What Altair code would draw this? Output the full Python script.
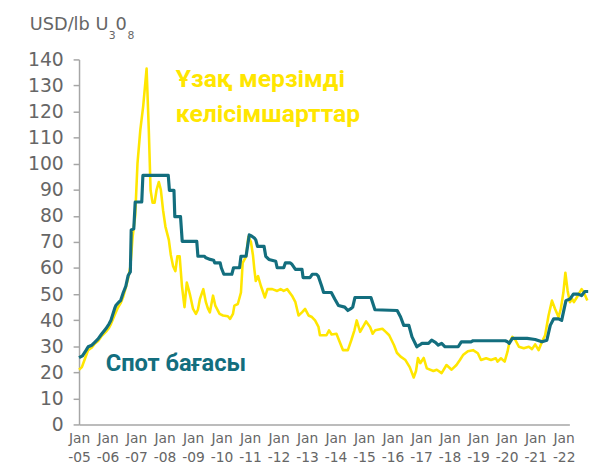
import altair as alt
import pandas as pd

# Yellow series: "Ұзақ мерзімді келісімшарттар"
contract_t = [2005.00, 2005.10, 2005.20, 2005.32, 2005.45, 2005.55, 2005.67, 2005.80, 2005.94, 2006.05,
              2006.12, 2006.25, 2006.35, 2006.46, 2006.55, 2006.64, 2006.72, 2006.80, 2006.88, 2006.97,
              2007.05, 2007.15, 2007.25, 2007.37, 2007.45, 2007.51, 2007.58, 2007.65, 2007.72, 2007.80,
              2007.87, 2007.95, 2008.03, 2008.15, 2008.22, 2008.30, 2008.38, 2008.45, 2008.53, 2008.61,
              2008.70, 2008.78, 2008.84, 2008.90, 2009.00, 2009.10, 2009.17, 2009.24, 2009.36, 2009.45,
              2009.52, 2009.59, 2009.70, 2009.78, 2009.93, 2010.05, 2010.22, 2010.30, 2010.40, 2010.45,
              2010.57, 2010.68, 2010.74, 2010.86, 2010.94, 2011.03, 2011.10, 2011.15, 2011.20, 2011.28,
              2011.38, 2011.52, 2011.61, 2011.78, 2011.95, 2012.07, 2012.18, 2012.30, 2012.47, 2012.59,
              2012.70, 2012.82, 2012.93, 2013.05, 2013.17, 2013.28, 2013.40, 2013.45, 2013.68, 2013.77,
              2013.86, 2014.03, 2014.12, 2014.26, 2014.43, 2014.55, 2014.66, 2014.74, 2014.86, 2015.07,
              2015.21, 2015.30, 2015.39, 2015.64, 2015.76, 2015.88, 2016.05, 2016.15, 2016.28, 2016.45,
              2016.60, 2016.74, 2016.82, 2016.89, 2016.97, 2017.09, 2017.20, 2017.43, 2017.55, 2017.72,
              2017.89, 2018.07, 2018.24, 2018.36, 2018.47, 2018.64, 2018.82, 2018.99, 2019.10, 2019.28,
              2019.45, 2019.62, 2019.68, 2019.80, 2019.93, 2020.03, 2020.09, 2020.20, 2020.31, 2020.43,
              2020.60, 2020.78, 2020.89, 2021.00, 2021.12, 2021.24, 2021.35, 2021.47, 2021.59, 2021.70,
              2021.82, 2021.90, 2021.99, 2022.06, 2022.14, 2022.22, 2022.30, 2022.36, 2022.46, 2022.63,
              2022.71, 2022.83]
contract_v = [21.0, 22.0, 25.0, 28.5, 29.5, 31.0, 32.0, 34.0, 35.5, 37.0,
              38.5, 42.0, 44.5, 46.5, 49.0, 52.5, 56.0, 60.5, 72.0, 80.0,
              100.0, 113.0, 122.0, 136.5, 112.0, 89.8, 85.0, 85.0, 90.0, 93.0,
              90.0, 82.0, 75.9, 70.8, 65.0, 60.7, 58.8, 64.5, 64.5, 53.1,
              45.0, 54.4, 52.0, 49.4, 44.3, 42.4, 44.0, 48.1, 51.9, 46.9,
              44.5, 43.0, 49.4, 45.6, 42.4, 41.8, 41.5, 40.5, 42.4, 45.6,
              46.2, 50.6, 62.0, 64.5, 72.0, 70.0, 65.0, 59.5, 55.0, 56.9,
              53.1, 48.7, 51.9, 51.9, 51.2, 51.9, 51.2, 51.9, 49.4, 46.9,
              41.8, 43.0, 44.3, 41.8, 41.2, 39.9, 37.4, 34.2, 34.2, 36.1,
              34.5, 34.8, 32.3, 28.5, 28.5, 32.3, 36.1, 39.9, 35.5, 39.5,
              37.4, 34.8, 36.1, 36.7, 35.5, 34.2, 30.4, 27.5, 26.0, 24.7,
              22.0, 18.0, 20.5, 25.5, 23.5, 25.5, 21.5, 20.5, 21.0, 19.7,
              22.8, 21.0, 22.8, 24.7, 26.6, 28.1, 28.5, 27.3, 24.7, 25.4,
              24.7, 25.4, 24.1, 25.4, 24.1, 27.9, 31.1, 33.6, 32.3, 29.8,
              29.2, 29.8, 28.9, 30.7, 28.5, 31.7, 34.2, 41.8, 47.5, 44.3,
              41.2, 44.3, 50.6, 58.2, 51.2, 46.9, 48.1, 46.9, 48.7, 51.9,
              50.6, 47.5]

# Teal series: "Спот бағасы"
spot_t = [2005.00, 2005.12, 2005.25, 2005.32, 2005.45, 2005.55, 2005.67, 2005.80, 2005.94, 2006.05,
          2006.12, 2006.25, 2006.29, 2006.40, 2006.46, 2006.55, 2006.64, 2006.72, 2006.77, 2006.80,
          2006.83, 2006.92, 2006.97, 2007.20, 2007.24, 2008.13, 2008.17, 2008.33, 2008.36, 2008.56,
          2008.62, 2009.13, 2009.17, 2009.40, 2009.45, 2009.60, 2009.72, 2009.76, 2009.95, 2009.99,
          2010.08, 2010.36, 2010.42, 2010.63, 2010.68, 2010.86, 2010.97, 2011.05, 2011.15, 2011.20,
          2011.26, 2011.49, 2011.55, 2011.66, 2011.90, 2011.95, 2012.18, 2012.24, 2012.40, 2012.47,
          2012.59, 2012.82, 2012.86, 2013.10, 2013.18, 2013.33, 2013.39, 2013.45, 2013.51, 2013.58,
          2013.85, 2013.97, 2014.10, 2014.32, 2014.43, 2014.55, 2014.60, 2014.68, 2015.24, 2015.38,
          2016.16, 2016.28, 2016.39, 2016.57, 2016.68, 2016.85, 2016.95, 2017.03, 2017.26, 2017.37,
          2017.50, 2017.60, 2017.72, 2017.84, 2018.30, 2018.41, 2018.75, 2018.82, 2019.95, 2020.03,
          2020.09, 2020.20, 2020.72, 2021.00, 2021.24, 2021.41, 2021.53, 2021.65, 2021.82, 2021.93,
          2021.99, 2022.08, 2022.22, 2022.34, 2022.51, 2022.63, 2022.74, 2022.86]
spot_v = [25.6, 26.3, 28.5, 29.8, 30.4, 31.5, 32.8, 34.8, 36.7, 38.5,
          40.0, 44.5, 45.6, 47.0, 47.5, 50.5, 53.0, 57.0, 58.0, 58.5,
          74.6, 75.0, 85.3, 85.3, 95.5, 95.5, 89.8, 89.8, 79.7, 79.7,
          70.2, 70.2, 64.5, 64.5, 63.9, 63.3, 63.0, 62.0, 62.0, 60.1,
          57.6, 57.6, 60.1, 60.1, 64.5, 64.5, 72.7, 72.3, 71.5, 70.8,
          68.3, 68.3, 64.5, 63.3, 62.6, 60.1, 60.1, 62.0, 62.0, 61.4,
          59.5, 59.5, 56.3, 56.3, 57.6, 57.6, 56.9, 55.0, 53.1, 50.6,
          50.6, 48.1, 45.6, 45.0, 43.7, 44.5, 45.0, 48.7, 48.7, 44.0,
          43.7, 41.2, 38.0, 38.0, 33.6, 29.8, 30.5, 31.1, 31.1, 32.3,
          31.5, 30.4, 31.1, 29.8, 29.8, 31.7, 31.7, 32.1, 32.1, 31.7,
          31.1, 33.0, 33.0, 32.6, 31.7, 32.3, 38.0, 40.5, 40.5, 39.9,
          43.0, 47.5, 48.1, 50.0, 50.0, 49.4, 51.0, 51.0]

year_ticks = list(range(2005, 2023))
y_ticks = list(range(0, 141, 10))

YELLOW = "#FFE600"
TEAL = "#136E7E"
GREY = "#666666"
AXIS_GREY = "#a6a6a6"
LABEL_FONT = "DejaVu Sans"

df_c = pd.DataFrame({"t": contract_t, "v": contract_v})
df_s = pd.DataFrame({"t": spot_t, "v": spot_v})

x_enc = alt.X("t:Q",
              scale=alt.Scale(domain=[2005, 2022.2], nice=False, zero=False),
              axis=alt.Axis(values=year_ticks, title=None, grid=False, tickSize=0,
                            labelExpr="['Jan', '-' + substring(toString(datum.value), 2, 4)]",
                            labelFont=LABEL_FONT, labelFontWeight="normal", labelFontSize=14,
                            labelColor=GREY, labelLineHeight=20, labelPadding=7,
                            labelOverlap=False, labelFlush=False, labelBound=False,
                            domainColor=AXIS_GREY, domainWidth=1.5))
y_enc = alt.Y("v:Q",
              scale=alt.Scale(domain=[0, 140], nice=False),
              axis=alt.Axis(values=y_ticks, title=None, grid=False, tickSize=6,
                            tickColor=AXIS_GREY, tickWidth=1.5,
                            labelFont=LABEL_FONT, labelFontWeight="normal", labelFontSize=19,
                            labelColor=GREY, labelPadding=10,
                            labelOverlap=False, labelFlush=False, labelBound=False,
                            domainColor=AXIS_GREY, domainWidth=1.5))

line_c = alt.Chart(df_c).mark_line(color=YELLOW, strokeWidth=2.6, strokeJoin="round").encode(
    x=x_enc, y=y_enc, order="t:Q")
line_s = alt.Chart(df_s).mark_line(color=TEAL, strokeWidth=3.2, strokeJoin="round").encode(
    x=x_enc, y=y_enc, order="t:Q")

dummy = pd.DataFrame({"a": [0]})

def label(text, x, y, size, color, weight="normal", font=LABEL_FONT):
    return alt.Chart(dummy).mark_text(text=text, font=font, fontSize=size, color=color,
                                      fontWeight=weight, align="left", baseline="middle").encode(
        x=alt.value(x), y=alt.value(y))

texts = [
    label("USD/lb U", -50, -35, 18, GREY),
    label("3", 30, -24, 11, GREY),
    label("0", 37, -35, 18, GREY),
    label("8", 49, -24, 11, GREY),
    label("Ұзақ мерзімді", 98, 20, 25, YELLOW, "bold", "Roboto"),
    label("келісімшарттар", 98, 55, 25, YELLOW, "bold", "Roboto"),
    label("Спот бағасы", 27, 309, 24, TEAL, "bold", "Roboto"),
]

chart = alt.layer(line_c, line_s, *texts).properties(
    width=497, height=370,
    autosize=alt.AutoSizeParams(type="none"),
    padding={"left": 72, "top": 49, "right": 27, "bottom": 40},
).configure_view(stroke=None)

chart.save("out.html", embed_options={"renderer": "svg", "actions": False})
